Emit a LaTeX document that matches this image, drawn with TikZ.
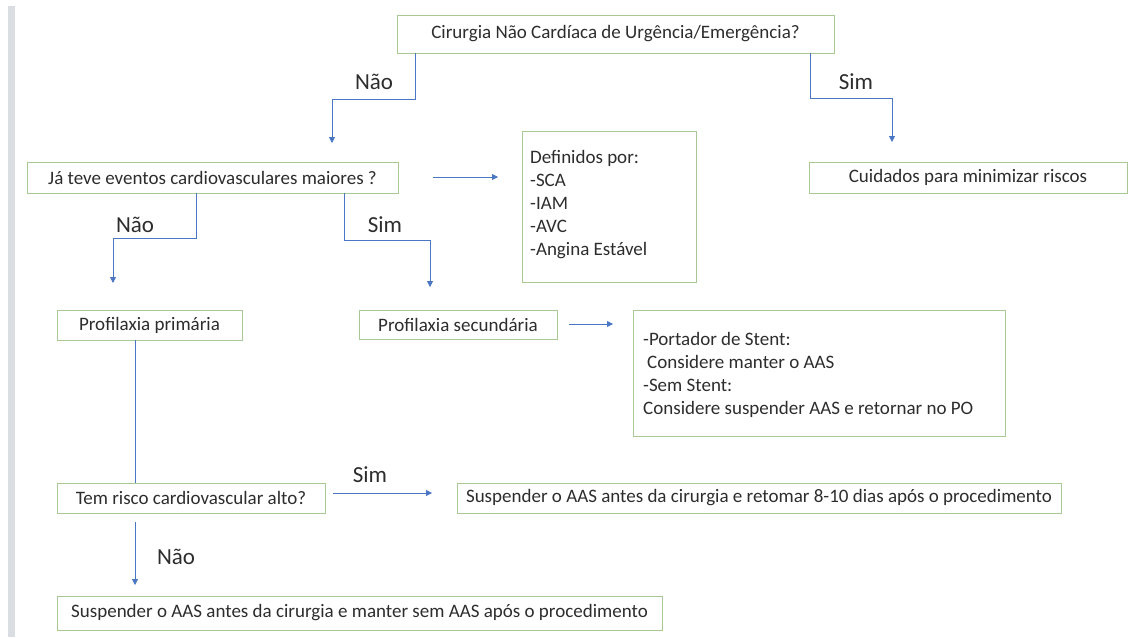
\documentclass[tikz,border=0pt]{standalone}
\usepackage{fontspec}
\setmainfont{Carlito}
\usetikzlibrary{arrows.meta}
\definecolor{boxgreen}{RGB}{168,200,150}
\definecolor{flowblue}{RGB}{74,118,196}
\definecolor{inkgray}{RGB}{45,45,45}
\definecolor{barGray}{RGB}{218,222,226}
\begin{document}
\begin{tikzpicture}[x=1pt,y=-1pt,
  box/.style={draw=boxgreen,line width=0.9pt,inner sep=0pt,text=inkgray,font=\fontsize{19}{22}\selectfont,anchor=center},
  note/.style={anchor=north west,inner sep=0pt,text=inkgray,align=left,font=\fontsize{19}{23}\selectfont},
  lbl/.style={text=inkgray,inner sep=0pt,font=\fontsize{23}{27}\selectfont},
  flow/.style={draw=flowblue,line width=0.8pt},
  arr/.style={flow,-{Triangle[width=6pt,length=6pt]}}]
\useasboundingbox (0,0) rectangle (1129,637);
\fill[white] (0,0) rectangle (1129,637);
% grey margin bar
\fill[barGray] (8,6) rectangle (15,637);

% boxes
\node[box,minimum width=437,minimum height=38] (top) at (615.5,34) {Cirurgia Não Cardíaca de Urgência/Emergência?};
\node[box,minimum width=318,minimum height=31] (cuid) at (968,177.5) {Cuidados para minimizar riscos};
\node[box,minimum width=371,minimum height=31] (ja) at (212.5,177.5) {Já teve eventos cardiovasculares maiores ?};
\node[box,minimum width=174,minimum height=151] (def) at (609,206.5) {};
\node[note] (deftxt) at (530,150) {Definidos por:\\-SCA\\-IAM\\-AVC\\-Angina Estável};
\node[box,minimum width=185,minimum height=30] (prim) at (149.5,325) {Profilaxia primária};
\node[box,minimum width=198,minimum height=29] (sec) at (458,324.5) {Profilaxia secundária};
\node[box,minimum width=372,minimum height=126] (port) at (819,373) {};
\node[note] (porttxt) at (643,332) {-Portador de Stent:\\\hspace*{4pt}Considere manter o AAS\\-Sem Stent:\\Considere suspender AAS e retornar no PO};
\node[box,minimum width=268,minimum height=30] (risk) at (191,498) {Tem risco cardiovascular alto?};
\node[box,minimum width=604,minimum height=30] (ret) at (759,498) {Suspender o AAS antes da cirurgia e retomar 8-10 dias após o procedimento};
\node[box,minimum width=605,minimum height=34] (bot) at (359.5,613) {Suspender o AAS antes da cirurgia e manter sem AAS após o procedimento};

% free arrow ends
\coordinate (jaIn) at (332,143);
\coordinate (cuidIn) at (892,142);
\coordinate (defIn) at (498,177);
\coordinate (jaOut) at (433,177);
\coordinate (primIn) at (113,283);
\coordinate (secIn) at (430,287);
\coordinate (secOut) at (569,324);
\coordinate (portIn) at (613,324);
\coordinate (riskOut) at (333,493);
\coordinate (retIn) at (432,493);
\coordinate (riskDown) at (135,522);
\coordinate (botIn) at (135,585);

% connectors
\draw[arr] (top.south -| 415,0) |- (332,99) -- (jaIn);
\draw[arr] (top.south -| 810,0) |- (892,98) -- (cuidIn);
\draw[arr] (jaOut) -- (defIn);
\draw[arr] (ja.south -| 196,0) |- (113,238) -- (primIn);
\draw[arr] (ja.south -| 344,0) |- (430,240) -- (secIn);
\draw[arr] (secOut) -- (portIn);
\draw[flow] (prim.south -| 135,0) -- (risk.north -| 135,0);
\draw[arr] (riskOut) -- (retIn);
\draw[arr] (riskDown) -- (botIn);

% branch labels
\node[lbl] (l1) at (374,82) {Não};
\node[lbl] (l2) at (856,82) {Sim};
\node[lbl] (l3) at (135,225) {Não};
\node[lbl] (l4) at (385,225) {Sim};
\node[lbl] (l5) at (370,475) {Sim};
\node[lbl] (l6) at (176,557) {Não};
\end{tikzpicture}
\end{document}
